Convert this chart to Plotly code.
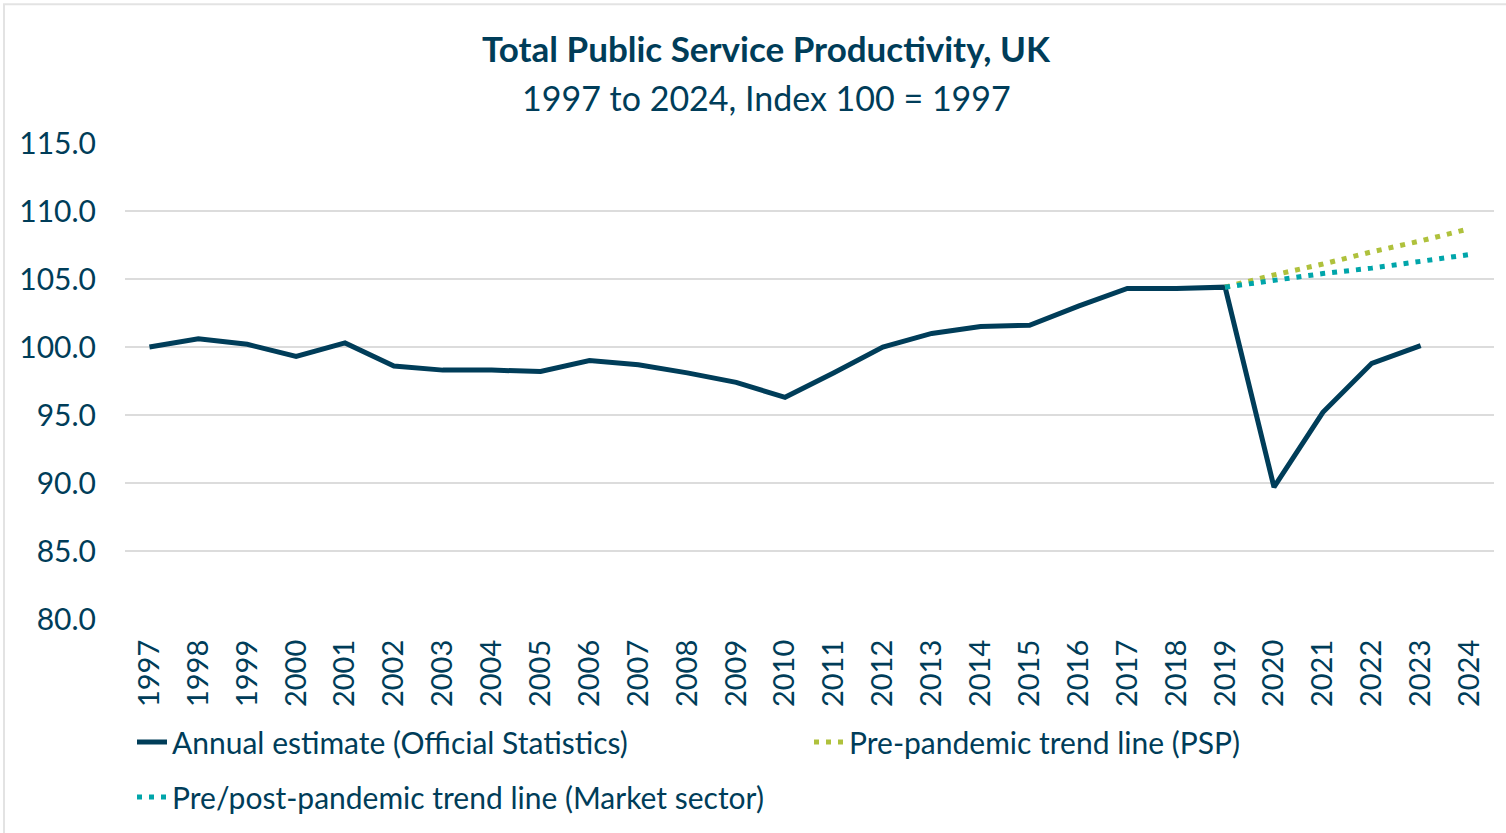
import plotly.graph_objects as go

years = [str(y) for y in range(1997, 2025)]
annual_years = [str(y) for y in range(1997, 2024)]
annual = [100.0, 100.6, 100.2, 99.3, 100.3, 98.6, 98.3, 98.3, 98.2, 99.0,
          98.7, 98.1, 97.4, 96.3, 98.1, 100.0, 101.0, 101.5, 101.6, 103.0,
          104.3, 104.3, 104.4, 89.7, 95.2, 98.8, 100.1]
trend_years = [str(y) for y in range(2019, 2025)]
psp_trend = [104.4, 105.3, 106.1, 107.0, 107.8, 108.7]
market_trend = [104.4, 104.9, 105.4, 105.8, 106.3, 106.8]
y_ticks = [80, 85, 90, 95, 100, 105, 110, 115]

NAVY = "#003d59"
GREEN = "#afc13c"
TEAL = "#00a5aa"
FONT = "Lato"

W, H = 1506, 833
L, R, T, B = 125, 12, 143, 213
PW, PH = W - L - R, H - T - B

def px_x(p):
    return (p - L) / PW

def px_y(p):
    return (H - B - p) / PH

fig = go.Figure()
fig.add_trace(go.Scatter(x=annual_years, y=annual, mode="lines",
                         name="Annual estimate (Official Statistics)",
                         line=dict(color=NAVY, width=5), legend="legend"))
fig.add_trace(go.Scatter(x=trend_years, y=psp_trend, mode="lines",
                         name="Pre-pandemic trend line (PSP)",
                         line=dict(color=GREEN, width=5, dash="5px,7px"), legend="legend3"))
fig.add_trace(go.Scatter(x=trend_years, y=market_trend, mode="lines",
                         name="Pre/post-pandemic trend line (Market sector)",
                         line=dict(color=TEAL, width=5, dash="5px,7px"), legend="legend2"))

legend_common = dict(orientation="h", xanchor="left", yanchor="middle",
                     font=dict(size=30, color=NAVY, family=FONT), bgcolor="rgba(0,0,0,0)")

fig.update_layout(
    width=W, height=H,
    margin=dict(l=L, r=R, t=T, b=B),
    paper_bgcolor="white", plot_bgcolor="white",
    font=dict(family=FONT, color=NAVY),
    title=dict(text="<b>Total Public Service Productivity, UK</b>",
               x=766 / W, xanchor="center", y=1 - 50 / H, yanchor="middle",
               font=dict(size=35, color=NAVY, family=FONT)),
    annotations=[dict(text="1997 to 2024, Index 100 = 1997", xref="paper", yref="paper",
                      x=(766 - L) / PW, y=px_y(97), xanchor="center", yanchor="middle",
                      showarrow=False, font=dict(size=34, color=NAVY, family=FONT))],
    xaxis=dict(type="category", categoryorder="array", categoryarray=years,
               range=[-0.5, 27.5], tickangle=-90, showgrid=False, showline=False,
               ticks="", ticklabelstandoff=14, tickfont=dict(size=29, color=NAVY)),
    yaxis=dict(range=[80, 115], tickvals=y_ticks, tickformat=".1f",
               showgrid=True, gridcolor="#dcdcdc", gridwidth=1.5,
               zeroline=False, showline=False, ticks="", ticklabelstandoff=28,
               tickfont=dict(size=30, color=NAVY)),
    legend=dict(x=px_x(132), y=px_y(742), **legend_common),
    legend3=dict(x=px_x(809), y=px_y(742), **legend_common),
    legend2=dict(x=px_x(132), y=px_y(797), **legend_common),
    showlegend=True,
    shapes=[dict(type="rect", xref="paper", yref="paper",
                 x0=px_x(4), x1=px_x(1515), y0=px_y(845), y1=px_y(4),
                 line=dict(color="#e3e3e3", width=2), fillcolor="rgba(0,0,0,0)",
                 layer="below")],
)

fig.write_html("out.html")
